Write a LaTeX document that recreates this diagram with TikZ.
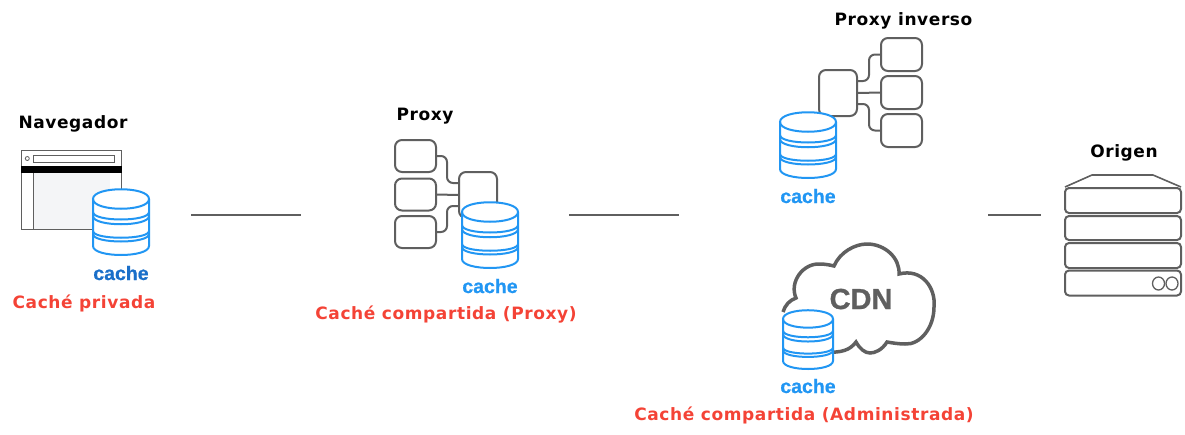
\documentclass[tikz,border=0pt]{standalone}
\usepackage{fontspec}
\newfontfamily\lblfont[LetterSpace=3.5]{DejaVu Sans Bold}
\newfontfamily\cachefont[FakeBold=0.8]{Liberation Sans Bold}
\newfontfamily\cdnfont[FakeBold=1]{Liberation Sans Bold}
\usetikzlibrary{calc}
\definecolor{gline}{HTML}{5F5F5F}
\definecolor{dbblue}{HTML}{2196F3}
\definecolor{dbdark}{HTML}{1A6FC9}
\definecolor{lblred}{HTML}{F44336}
\definecolor{panel}{HTML}{F4F5F7}
\tikzset{
  title/.style={anchor=base,inner sep=0pt,text=black,font=\lblfont\fontsize{17}{19}\selectfont},
  redlabel/.style={anchor=base,inner sep=0pt,text=lblred,font=\lblfont\fontsize{17}{19}\selectfont},
  cachelabel/.style={anchor=base,inner sep=0pt,text=dbblue,font=\cachefont\fontsize{19.5}{22}\selectfont},
  box/.style={draw=gline,line width=2pt,rounded corners=7pt,inner sep=0pt,fill=white},
  srv/.style={draw=gline,line width=2pt,rounded corners=4pt,inner sep=0pt,minimum width=116pt,fill=white},
  link/.style={draw=gline,line width=2pt,rounded corners=6pt},
  flow/.style={draw=gline,line width=1.5pt},
  win/.style={draw=gline,line width=1pt},
  dbline/.style={draw=dbblue,line width=2pt},
}
% left, top, width, height
\newcommand{\dbicon}[4]{%
  \begin{scope}[shift={(#1,#2)},xscale=#3/56,yscale=#4/66]
    \fill[white] (0,10) -- (0,57) .. controls (0,69) and (56,69) .. (56,57) -- (56,10) .. controls (56,-3) and (0,-3) .. (0,10) -- cycle;
    \path[dbline] (0,10) .. controls (0,-3) and (56,-3) .. (56,10) .. controls (56,23) and (0,23) .. (0,10) -- cycle;
    \path[dbline] (0,10) -- (0,57) .. controls (0,69) and (56,69) .. (56,57) -- (56,10);
    \path[dbline] (0,23) .. controls (0,33) and (56,33) .. (56,23);
    \path[dbline] (0,27) .. controls (0,38) and (56,38) .. (56,27);
    \path[dbline] (0,42) .. controls (0,51) and (56,51) .. (56,42);
    \path[dbline] (0,45) .. controls (0,55) and (56,55) .. (56,45);
  \end{scope}}
\begin{document}
\begin{tikzpicture}[x=1pt,y=-1pt]
\useasboundingbox (0,0) rectangle (1185,434);
% flow lines
\coordinate (f1a) at (191,215); \coordinate (f1b) at (301,215);
\coordinate (f2a) at (569,215); \coordinate (f2b) at (679,215);
\coordinate (f3a) at (988,215); \coordinate (f3b) at (1041,215);
\path[flow] (f1a) -- (f1b);
\path[flow] (f2a) -- (f2b);
\path[flow] (f3a) -- (f3b);
% browser
\fill[panel] (33,172) rectangle (110,229.5);
\draw[win] (21.5,150) rectangle (121.5,229.5);
\draw[win] (33,172) -- (33,229.5);
\fill[black] (21,166) rectangle (122,172.5);
\draw[win] (33.5,155) rectangle (114.5,162);
\draw[win,line width=0.8pt] (27.3,158.5) circle (2);
\dbicon{93}{189}{56}{66}
\node[title] (tnav) at (73,128) {Navegador};
\node[cachelabel,text=dbdark] (c1) at (121,280) {cache};
\node[redlabel] (r1) at (84,308) {Caché privada};
% proxy
\node[box,minimum width=41pt,minimum height=32pt] (p1) at (415.5,156) {};
\node[box,minimum width=41pt,minimum height=32pt] (p2) at (415.5,194.5) {};
\node[box,minimum width=41pt,minimum height=32pt] (p3) at (415.5,232) {};
\node[box,minimum width=38pt,minimum height=46pt] (pb) at (478,195) {};
\path[link] (p1.east) -- (447,156) -- (447,183) -- (pb.west |- 0,183);
\path[link] (p2.east) -- (pb.west);
\path[link] (p3.east) -- (447,232) -- (447,206) -- (pb.west |- 0,206);
\dbicon{462}{202}{56}{66}
\node[title] (tprox) at (425,120) {Proxy};
\node[cachelabel] (c2) at (490,293) {cache};
\node[redlabel] (r2) at (446,319) {Caché compartida (Proxy)};
% reverse proxy
\node[box,minimum width=38pt,minimum height=46pt] (rb) at (838,93) {};
\node[box,minimum width=41pt,minimum height=33pt] (r1b) at (901.5,54.5) {};
\node[box,minimum width=41pt,minimum height=33pt] (r2b) at (901.5,92.5) {};
\node[box,minimum width=41pt,minimum height=33pt] (r3b) at (901.5,130.5) {};
\path[link] (rb.east |- 0,81) -- (869,81) -- (869,54.5) -- (r1b.west);
\path[link] (rb.east) -- (r2b.west);
\path[link] (rb.east |- 0,104) -- (869,104) -- (869,130.5) -- (r3b.west);
\dbicon{780}{112}{56}{66}
\node[title] (trev) at (903.5,25) {Proxy inverso};
\node[cachelabel] (c3) at (808,203) {cache};
% CDN
\path[draw=gline,line width=3.5pt,fill=white]
 (783,312) .. controls (785,305) and (790,300) .. (796,298)
 .. controls (789,282) and (803,263) .. (820,264) .. controls (825,264) and (830,265) .. (834,266)
 .. controls (840,252) and (855,244) .. (867,244) .. controls (885,244) and (900,258) .. (899,274)
 .. controls (922,268) and (936,288) .. (934,307) .. controls (934,328) and (920,345) .. (905,344)
 .. controls (899,344) and (893,343) .. (887,342)
 .. controls (882,350) and (875,353) .. (870,353) .. controls (865,353) and (860,349) .. (856,342)
 .. controls (850,350) and (842,353) .. (825,352);
\node[anchor=base,inner sep=0pt,text=gline,font=\cdnfont\fontsize{29}{32}\selectfont] (cdn) at (861,309) {CDN};
\dbicon{783}{310}{50}{59}
\node[cachelabel] (c4) at (808,393) {cache};
\node[redlabel] (r3) at (804,420) {Caché compartida (Administrada)};
% origin
\node[title] (torig) at (1124,157) {Origen};
\path[draw=gline,line width=1.6pt,line join=round] (1065,187) -- (1092,175) -- (1153,175) -- (1181,187);
\node[srv,minimum height=25pt] (s1) at (1123,200.5) {};
\node[srv,minimum height=24pt] (s2) at (1123,228) {};
\node[srv,minimum height=25pt] (s3) at (1123,255.5) {};
\node[srv,minimum height=25pt] (s4) at (1123,283) {};
\draw[gline,line width=1.3pt] (1158.5,283.5) ellipse (6 and 6.5);
\draw[gline,line width=1.3pt] (1172,283.5) ellipse (6 and 6.5);
\end{tikzpicture}
\end{document}
